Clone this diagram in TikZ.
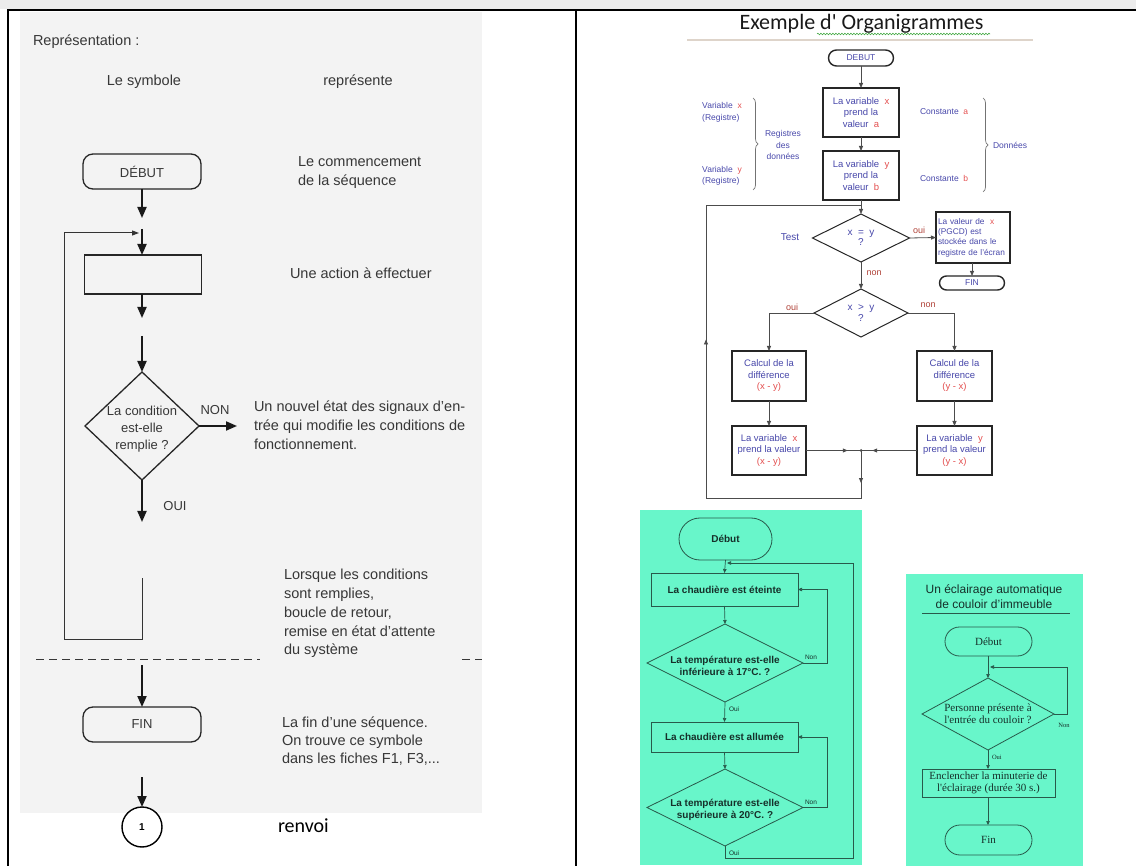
\documentclass[tikz,border=0pt]{standalone}
\usepackage{fontspec}
\setmainfont{Liberation Sans}
\newfontfamily\cali{Carlito}
\newfontfamily\tms{Liberation Serif}
\usetikzlibrary{arrows.meta,decorations.pathreplacing,decorations.pathmorphing,decorations.markings,shapes.geometric}
\definecolor{scan}{RGB}{243,243,243}
\definecolor{topgray}{RGB}{236,236,236}
\definecolor{ink}{RGB}{55,55,55}
\definecolor{fblue}{RGB}{72,72,170}
\definecolor{fred}{RGB}{228,80,80}
\definecolor{fbrown}{RGB}{175,65,55}
\definecolor{aqua}{RGB}{104,246,202}
\definecolor{gline}{RGB}{40,90,75}
\definecolor{gtext}{RGB}{22,48,42}
\definecolor{rulec}{RGB}{222,212,202}
\definecolor{wavyc}{RGB}{70,170,70}
\newcommand{\fsz}[2]{\fontsize{#1}{#2}\selectfont}
\begin{document}
\begin{tikzpicture}[x=1pt,y=-1pt,
  every node/.style={inner sep=0pt,outer sep=0pt},
  lt/.style={font=\fsz{14.5}{19}, text=ink, align=left},
  lshape/.style={draw=black!85, line width=1.3pt},
  lterm/.style={lshape, rounded corners=10pt, font=\fsz{13}{15}, text=ink},
  larr/.style={draw=black!90, line width=2pt, -{Triangle[length=11pt,width=9pt]}},
  lloop/.style={draw=black!80, line width=1pt, -{Triangle[length=7pt,width=5pt]}},
  rbox/.style={draw=black!85, line width=1.2pt, fill=white, font=\fsz{9.5}{11.5}, text=fblue, align=center},
  rterm/.style={draw=black!85, line width=1.4pt, fill=white, font=\fsz{8.5}{10}, text=fblue},
  rdia/.style={draw=black!85, line width=1pt, shape=diamond, fill=white},
  rarr/.style={draw=black!70, line width=0.8pt, -{Triangle[length=5pt,width=4pt]}},
  rline/.style={draw=black!70, line width=0.8pt},
  rt/.style={font=\fsz{8.5}{11.5}, text=fblue, align=left},
  rlab/.style={font=\fsz{9}{11}, text=fbrown},
  midarr/.style={postaction={decorate,decoration={markings,mark=at position #1 with {\arrow{Triangle[length=5pt,width=4pt]}}}}},
  gbox/.style={draw=gline, line width=0.8pt, font=\bfseries\fsz{10}{12}, text=gtext, align=center},
  gdia/.style={draw=gline, line width=0.8pt, shape=diamond},
  garr/.style={draw=gline, line width=0.7pt, -{Triangle[length=4pt,width=3.5pt]}},
  gline/.style={draw=gline, line width=0.7pt},
  glab/.style={font=\fsz{6.5}{7}, text=gtext},
  tbox/.style={draw=gline, line width=0.8pt, font=\tms\fsz{11}{12.5}, text=gtext, align=center},
  tlab/.style={font=\tms\fsz{6.5}{7}, text=gtext}
]
\useasboundingbox (0,0) rectangle (1136,866);
% ---------- frame and backgrounds ----------
\fill[topgray] (0,0) rectangle (1136,9);
\fill[scan] (20,12) rectangle (482,813);
\draw[line width=1.5pt] (8,866) -- (8,10) -- (1136,10);
\draw[line width=1.5pt] (576,10) -- (576,866);

% ================= LEFT PANEL =================
\node[lt, anchor=west] (repr) at (33,42) {Représentation :};
\node[lt] (sym) at (144,82) {Le symbole};
\node[lt] (rpr) at (358,82) {représente};

\node[lterm, minimum width=118pt, minimum height=35pt] (deb) at (142,171.5) {DÉBUT};
\node[lt, anchor=west] (tdeb) at (298,172.5) {Le commencement\\de la séquence};
\coordinate (a1) at (142,218);
\draw[larr] (deb.south) -- (a1);

\node[lshape, minimum width=117pt, minimum height=39pt] (act) at (143,274.5) {};
\node[lt, anchor=west] (tact) at (290,273) {Une action à effectuer};
\coordinate (a2) at (142,229);
\draw[larr] (a2) -- (act.north -| a2);

\coordinate (a3) at (142,318);
\draw[larr] (act.south -| a3) -- (a3);

\node[lshape, shape=diamond, minimum width=114pt, minimum height=108pt] (cond) at (142,426) {};
\node[font=\fsz{13}{17}, text=ink, align=center] (tcond) at (142,429) {La condition\\est-elle\\remplie ?};
\coordinate (a4) at (142,336);
\draw[larr] (a4) -- (cond.north);
\coordinate (a5) at (237,426);
\draw[larr] (cond.east) -- (a5);
\node[font=\fsz{13}{15}, text=ink] (non) at (215,410) {NON};
\node[lt, anchor=west] (tnon) at (254,425) {Un nouvel état des signaux d'en-\\trée qui modifie les conditions de\\fonctionnement.};
\coordinate (a6) at (142,522);
\draw[larr] (cond.south) -- (a6);
\node[font=\fsz{13}{15}, text=ink] (oui) at (175,506) {OUI};

% loop back
\coordinate (lp0) at (142,578);
\coordinate (lp1) at (142,639);
\coordinate (lp2) at (64,639);
\coordinate (lp3) at (64,233);
\coordinate (lp4) at (139,233);
\draw[lloop] (lp0) -- (lp1) -- (lp2) -- (lp3) -- (lp4);
\node[lt, anchor=west, font=\fsz{14.5}{18.8}] (tloop) at (284,613.5) {Lorsque les conditions\\sont remplies,\\boucle de retour,\\remise en état d'attente\\du système};

% dashed separator
\coordinate (ds0) at (36,659);
\coordinate (ds1) at (260,659);
\coordinate (ds2) at (462,659);
\coordinate (ds3) at (482,659);
\draw[draw=ink, line width=1pt, dash pattern=on 8pt off 5pt] (ds0) -- (ds1);
\draw[draw=ink, line width=1pt, dash pattern=on 8pt off 5pt] (ds2) -- (ds3);

\node[lterm, minimum width=118pt, minimum height=35pt] (fin) at (142,724.5) {FIN};
\coordinate (a7) at (142,665);
\draw[larr] (a7) -- (fin.north);
\node[lt, anchor=west, font=\fsz{14.5}{18}] (tfin) at (282,741) {La fin d'une séquence.\\On trouve ce symbole\\dans les fiches F1, F3,...};

\node[draw=black, line width=1.4pt, fill=white, shape=circle, minimum size=40pt, font=\bfseries\fsz{10}{12}] (renv) at (142,827) {1};
\coordinate (a8) at (142,777);
\draw[larr] (a8) -- (renv.north);
\node[font=\cali\fsz{20}{24}, anchor=west] (trenv) at (278,826) {renvoi};

% ================= RIGHT PANEL : top flowchart =================
\node[font=\cali\fsz{22}{26}, text=black!90, anchor=base] (title) at (861.5,29.5) {Exemple d' Organigrammes};
\coordinate (w0) at (817,34);
\coordinate (w1) at (990,34);
\draw[wavyc, line width=0.6pt, decorate, decoration={snake, segment length=3pt, amplitude=0.8pt}] (w0) -- (w1);
\coordinate (r0) at (687,40);
\coordinate (r1) at (1033,40);
\draw[rulec, line width=2pt] (r0) -- (r1);

\node[rterm, rounded corners=8pt, minimum width=65pt, minimum height=16pt] (rdeb) at (861,58) {DEBUT};
\node[rbox, minimum width=76pt, minimum height=49pt] (b1) at (861,112.5) {La variable \ \textcolor{fred}{x}\\prend la\\valeur \ \textcolor{fred}{a}};
\node[rbox, minimum width=76pt, minimum height=49pt] (b2) at (861,175.5) {La variable \ \textcolor{fred}{y}\\prend la\\valeur \ \textcolor{fred}{b}};
\draw[rarr] (rdeb.south) -- (b1.north);
\draw[rarr] (b1.south) -- (b2.north);

\node[rt] (vx) at (722,112.5) {Variable \ \textcolor{fred}{x}\\(Registre)};
\node[rt] (vy) at (722,176) {Variable \ \textcolor{fred}{y}\\(Registre)};
\coordinate (br0) at (753,98);
\coordinate (br1) at (753,190);
\draw[black!55, line width=0.7pt, decorate, decoration={brace, amplitude=5pt}] (br0) -- (br1);
\node[rt, align=center] (reg) at (783,145) {Registres\\des\\données};
\node[rt, anchor=west] (ca) at (920,112) {Constante \ \textcolor{fred}{a}};
\node[rt, anchor=west] (cb) at (920,178) {Constante \ \textcolor{fred}{b}};
\coordinate (br2) at (983,98);
\coordinate (br3) at (983,192);
\draw[black!55, line width=0.7pt, decorate, decoration={brace, amplitude=5pt}] (br2) -- (br3);
\node[rt, anchor=west] (don) at (993,145) {Données};

\node[rdia, minimum width=97pt, minimum height=48pt] (d1) at (861,238) {};
\node[font=\fsz{10}{10.5}, text=fblue, align=center] (td1) at (861,238) {x \ = \ y\\?};
\draw[rarr] (b2.south) -- (d1.north);
\node[font=\fsz{10}{12}, text=fblue] (test) at (790,237) {Test};

\node[rbox, minimum width=74pt, minimum height=51pt, font=\fsz{8.3}{10.3}, align=left, text width=70pt] (b3) at (973,237.5) {La valeur de \ \textcolor{fred}{x}\\(PGCD) est\\stockée dans le\\registre de l'écran};
\draw[rarr] (d1.east) -- (b3.west);
\node[rlab] (oui1) at (919,230) {oui};
\node[rterm, rounded corners=7pt, minimum width=65pt, minimum height=14pt] (rfin) at (972,283) {FIN};
\draw[rarr] (b3.south -| rfin.north) -- (rfin.north);

\node[rdia, minimum width=94pt, minimum height=48pt] (d2) at (861,313) {};
\node[font=\fsz{10}{10.5}, text=fblue, align=center] (td2) at (861,313) {x \ > \ y\\?};
\draw[rarr] (d1.south) -- (d2.north);
\node[rlab] (non1) at (874,273) {non};
\node[rlab] (oui2) at (792,307) {oui};
\node[rlab] (non2) at (928,305) {non};

\node[rbox, minimum width=74pt, minimum height=50pt] (b4) at (769,376) {Calcul de la\\différence\\\textcolor{fred}{(x - y)}};
\node[rbox, minimum width=75pt, minimum height=50pt] (b5) at (954.5,376) {Calcul de la\\différence\\\textcolor{fred}{(y - x)}};
\coordinate (k1) at (769,313);
\coordinate (k2) at (954.5,313);
\draw[rarr] (d2.west) -- (k1) -- (b4.north);
\draw[rarr] (d2.east) -- (k2) -- (b5.north);

\node[rbox, minimum width=74pt, minimum height=49pt] (b6) at (769,450.5) {La variable \ \textcolor{fred}{x}\\prend la valeur\\\textcolor{fred}{(x - y)}};
\node[rbox, minimum width=75pt, minimum height=49pt] (b7) at (954.5,450.5) {La variable \ \textcolor{fred}{y}\\prend la valeur\\\textcolor{fred}{(y - x)}};
\draw[rarr] (b4.south) -- (b6.north);
\draw[rarr] (b5.south) -- (b7.north);

\coordinate (j) at (861,450.5);
\draw[rline, midarr=0.76] (b6.east) -- (j);
\draw[rline, midarr=0.8] (b7.west) -- (j);
\fill[black!70] (j) circle (1.5pt);
\coordinate (q1) at (861,498);
\coordinate (q2) at (706,498);
\coordinate (q3) at (706,205);
\coordinate (q4) at (861,205);
\draw[rline, postaction={decorate,decoration={markings,
   mark=at position 0.05 with {\arrow{Triangle[length=5pt,width=4pt]}},
   mark=at position 0.555 with {\arrow{Triangle[length=5pt,width=4pt]}}}}]
   (j) -- (q1) -- (q2) -- (q3) -- (q4);

% ================= RIGHT PANEL : green chart 1 =================
\fill[aqua] (640,510) rectangle (862,865);
\node[gbox, rounded corners=21pt, minimum width=93pt, minimum height=42pt] (gdeb) at (725.5,539) {Début};
\node[gbox, minimum width=147pt, minimum height=33pt] (g1) at (724.5,589.5) {La chaudière est éteinte};
\node[gdia, minimum width=156pt, minimum height=78pt] (gd1) at (725,663) {};
\node[font=\bfseries\fsz{10}{12}, text=gtext, align=center] (tgd1) at (725,666) {La température est-elle\\inférieure à 17°C. ?};
\node[gbox, minimum width=147pt, minimum height=30pt] (g2) at (724.5,737) {La chaudière est allumée};
\node[gdia, minimum width=156pt, minimum height=77pt] (gd2) at (725,807.5) {};
\node[font=\bfseries\fsz{10}{12}, text=gtext, align=center] (tgd2) at (725,809.5) {La température est-elle\\supérieure à 20°C. ?};
\draw[garr] (gdeb.south) -- (g1.north);
\draw[garr] (g1.south) -- (gd1.north);
\draw[garr] (gd1.south) -- (g2.north);
\draw[garr] (g2.south) -- (gd2.north);
\coordinate (n1) at (827,663);
\coordinate (n2) at (827,589.5);
\draw[garr] (gd1.east) -- (n1) -- (n2) -- (g1.east);
\coordinate (n3) at (827,807.5);
\coordinate (n4) at (827,737);
\draw[garr] (gd2.east) -- (n3) -- (n4) -- (g2.east);
\coordinate (o1) at (725,858);
\coordinate (o2) at (853,858);
\coordinate (o3) at (853,563);
\coordinate (o4) at (727,563);
\draw[garr] (gd2.south) -- (o1) -- (o2) -- (o3) -- (o4);
\node[glab] (gn1) at (811,657) {Non};
\node[glab] (gn2) at (811,802) {Non};
\node[glab, anchor=west] (go1) at (729,709) {Oui};
\node[glab, anchor=west] (go2) at (729,853) {Oui};

% ================= RIGHT PANEL : green chart 2 =================
\fill[aqua] (906,574) rectangle (1083,866);
\node[font=\fsz{12}{15}, text=gtext, align=center] (gt) at (994,596.5) {Un éclairage automatique\\de couloir d'immeuble};
\coordinate (u0) at (922,613);
\coordinate (u1) at (1070,613);
\draw[gline] (u0) -- (u1);
\node[tbox, rounded corners=14.5pt, minimum width=87pt, minimum height=29pt] (tdeb2) at (988.5,641.5) {Début};
\node[gdia, minimum width=132pt, minimum height=72pt] (gd3) at (988,714) {};
\node[font=\tms\fsz{11}{12.5}, text=gtext, align=center] (tgd3) at (988,714) {Personne présente à\\l'entrée du couloir ?};
\node[tbox, minimum width=133pt, minimum height=28pt] (g3) at (988.5,783) {Enclencher la minuterie de\\l'éclairage (durée 30 s.)};
\node[tbox, rounded corners=15pt, minimum width=87pt, minimum height=30pt] (tfin2) at (988.5,840) {Fin};
\draw[garr] (tdeb2.south -| gd3.north) -- (gd3.north);
\draw[garr] (gd3.south) -- (g3.north -| gd3.south);
\draw[garr] (g3.south -| gd3.south) -- (tfin2.north -| gd3.south);
\coordinate (m1) at (1067,714);
\coordinate (m2) at (1067,667);
\coordinate (m3) at (990,667);
\draw[garr] (gd3.east) -- (m1) -- (m2) -- (m3);
\node[tlab] (tn) at (1064,725) {Non};
\node[tlab, anchor=west] (to) at (992,757) {Oui};
\end{tikzpicture}
\end{document}
